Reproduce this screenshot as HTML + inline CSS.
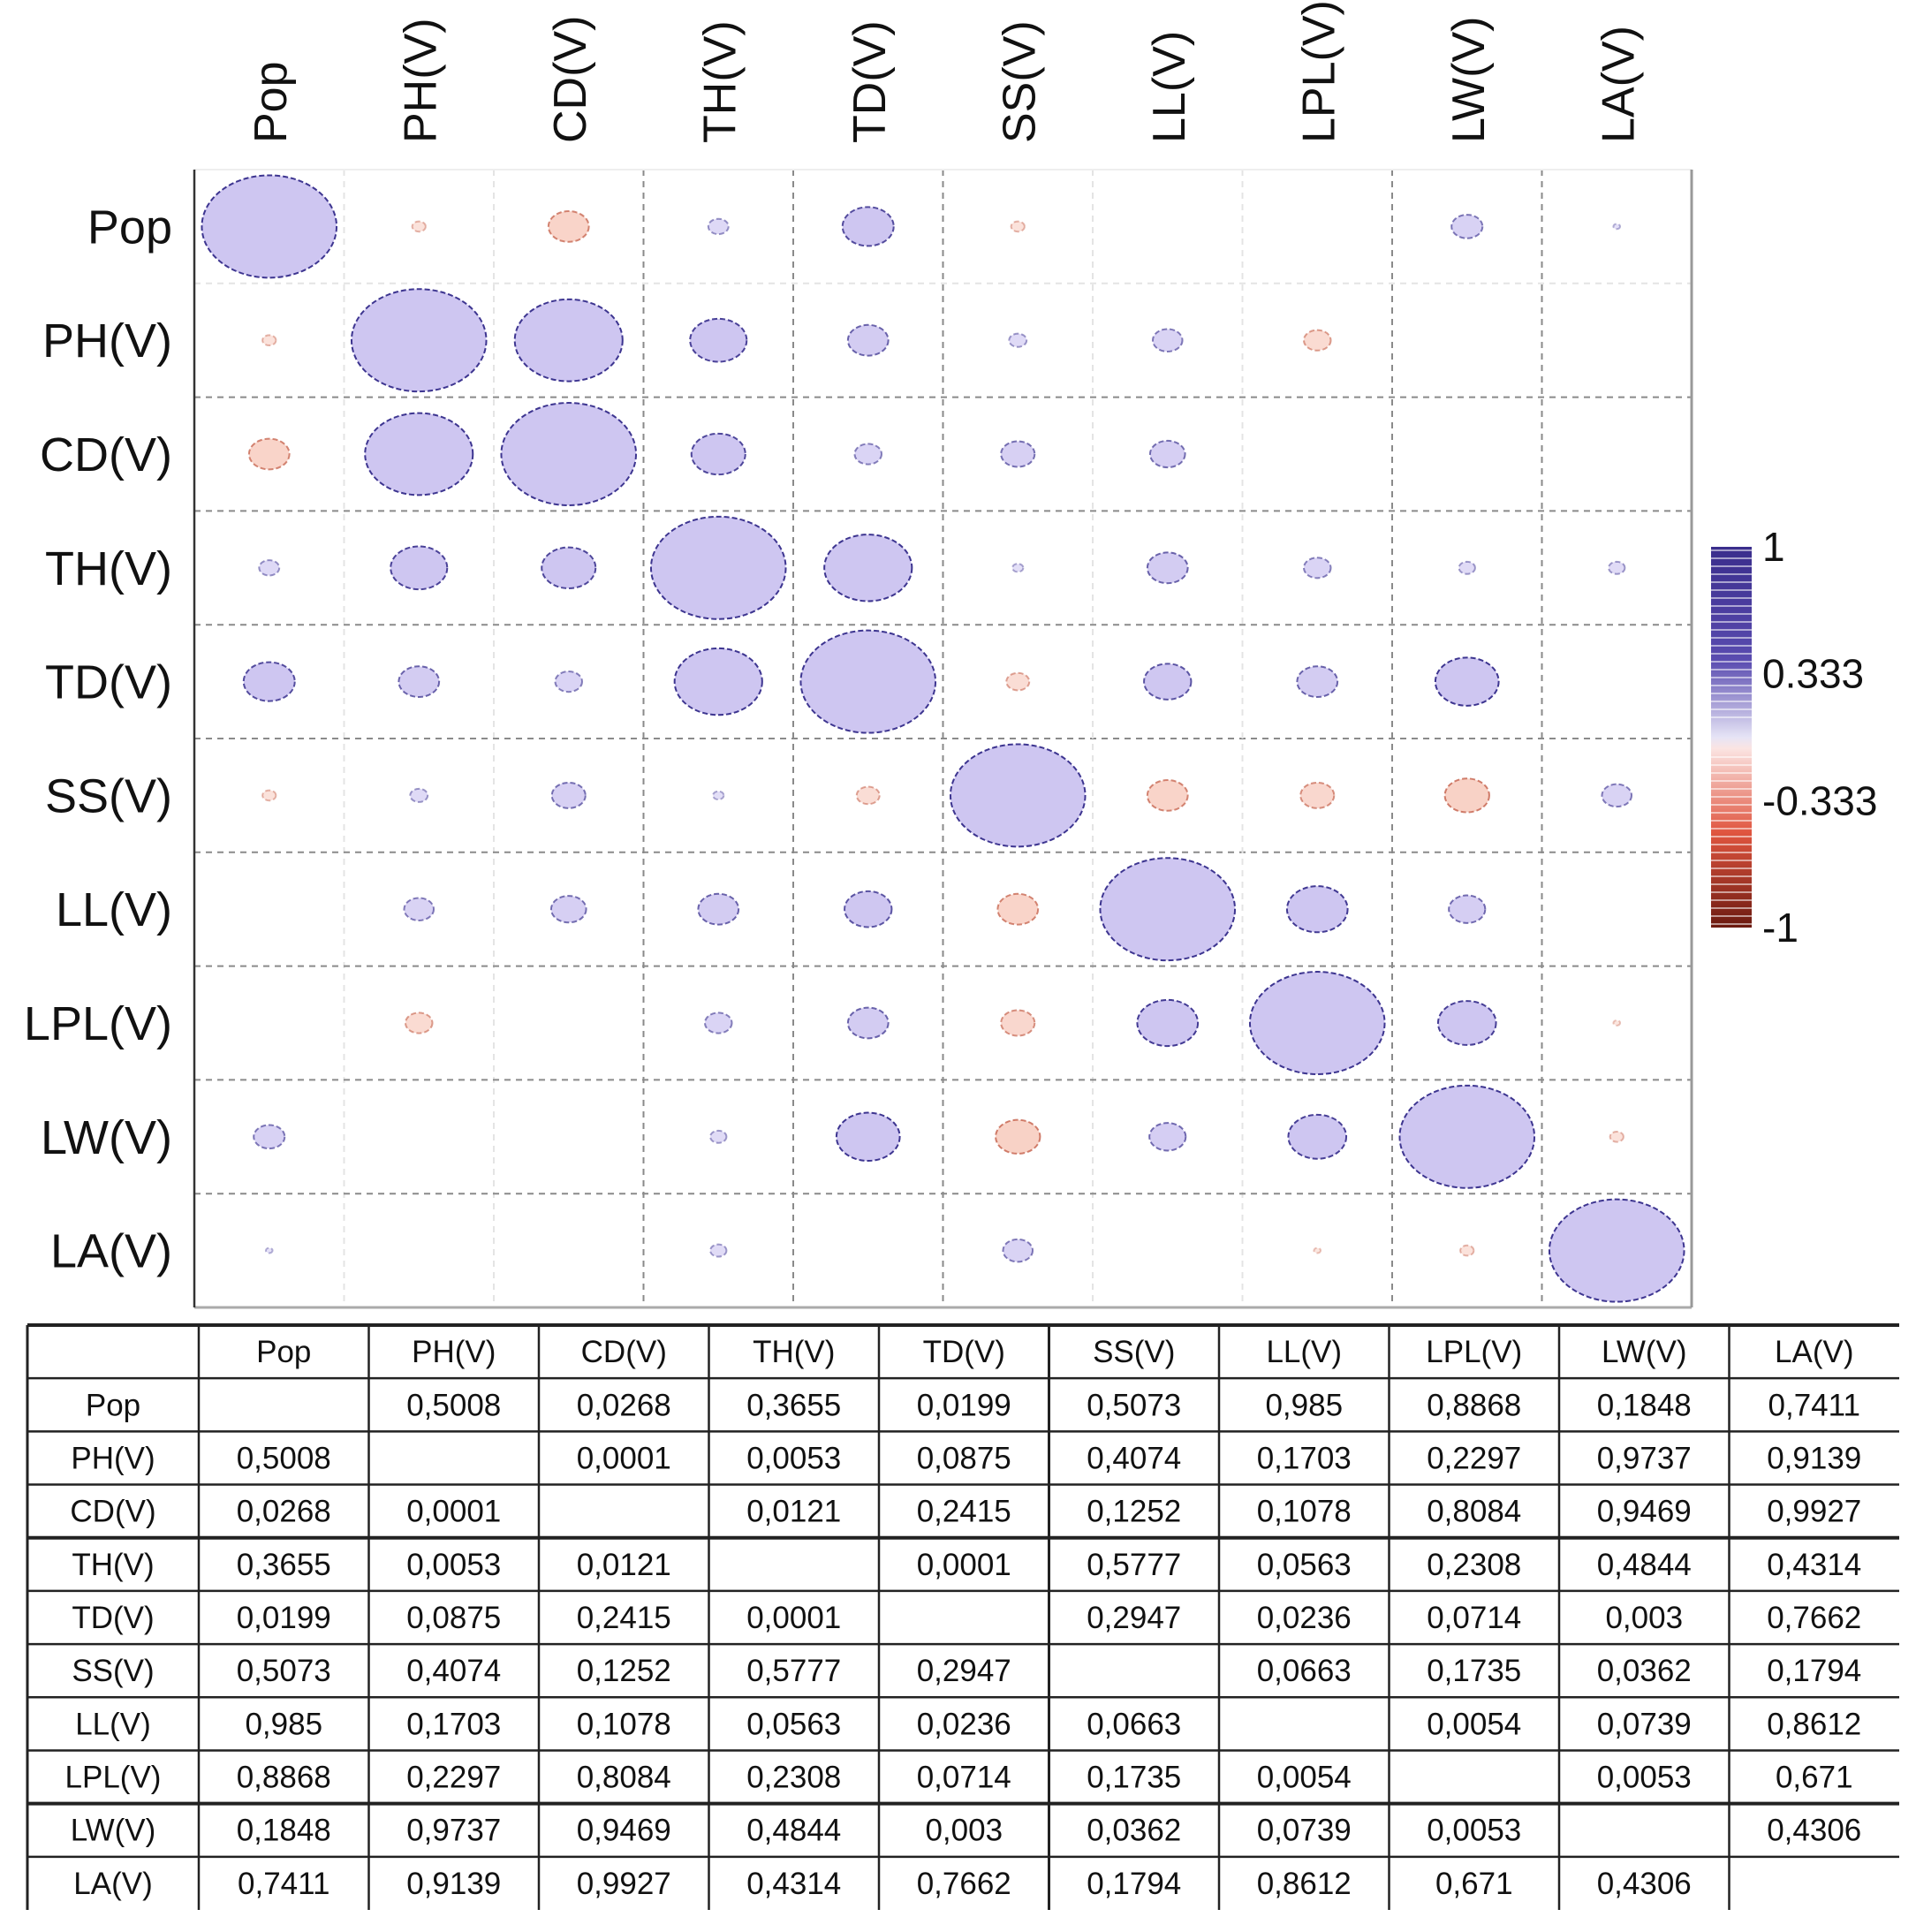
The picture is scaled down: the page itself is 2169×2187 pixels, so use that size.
<!DOCTYPE html>
<html><head><meta charset="utf-8"><style>
html,body{margin:0;padding:0;background:#fff;}
svg{display:block;}
</style></head><body>
<svg id="chart" width="2169" height="2187" viewBox="0 0 2169 2187" xmlns="http://www.w3.org/2000/svg" font-family="Liberation Sans, sans-serif">
<defs>
<linearGradient id="cbg" x1="0" y1="0" x2="0" y2="1">
<stop offset="0" stop-color="#3a2d8c"/>
<stop offset="0.3" stop-color="#5a4cb0"/>
<stop offset="0.5" stop-color="#e6e4f6"/>
<stop offset="0.53" stop-color="#fbe4e2"/>
<stop offset="0.75" stop-color="#e0553f"/>
<stop offset="1" stop-color="#6b1a10"/>
</linearGradient>
</defs>
<g id="plot"></g>
<g id="table"></g>
</svg>
<script>
const vars = ["Pop","PH(V)","CD(V)","TH(V)","TD(V)","SS(V)","LL(V)","LPL(V)","LW(V)","LA(V)"];
const corr = [
[1,-0.10,-0.30,0.15,0.38,-0.10,0.00,0.02,0.23,0.05],
[-0.10,1,0.80,0.42,0.30,0.13,0.22,-0.20,0.00,0.02],
[-0.30,0.80,1,0.40,0.20,0.25,0.26,0.02,0.01,0.00],
[0.15,0.42,0.40,1,0.65,0.08,0.30,0.20,0.12,0.12],
[0.38,0.30,0.20,0.65,1,-0.17,0.35,0.30,0.47,0.02],
[-0.10,0.13,0.25,0.08,-0.17,1,-0.30,-0.25,-0.33,0.22],
[0.00,0.22,0.26,0.30,0.35,-0.30,1,0.45,0.27,0.02],
[0.02,-0.20,0.02,0.20,0.30,-0.25,0.45,1,0.43,-0.05],
[0.23,0.00,0.01,0.12,0.47,-0.33,0.27,0.43,1,-0.10],
[0.05,0.02,0.00,0.12,0.02,0.22,0.02,-0.05,-0.10,1]
];
const pvals = [
["","0,5008","0,0268","0,3655","0,0199","0,5073","0,985","0,8868","0,1848","0,7411"],
["0,5008","","0,0001","0,0053","0,0875","0,4074","0,1703","0,2297","0,9737","0,9139"],
["0,0268","0,0001","","0,0121","0,2415","0,1252","0,1078","0,8084","0,9469","0,9927"],
["0,3655","0,0053","0,0121","","0,0001","0,5777","0,0563","0,2308","0,4844","0,4314"],
["0,0199","0,0875","0,2415","0,0001","","0,2947","0,0236","0,0714","0,003","0,7662"],
["0,5073","0,4074","0,1252","0,5777","0,2947","","0,0663","0,1735","0,0362","0,1794"],
["0,985","0,1703","0,1078","0,0563","0,0236","0,0663","","0,0054","0,0739","0,8612"],
["0,8868","0,2297","0,8084","0,2308","0,0714","0,1735","0,0054","","0,0053","0,671"],
["0,1848","0,9737","0,9469","0,4844","0,003","0,0362","0,0739","0,0053","","0,4306"],
["0,7411","0,9139","0,9927","0,4314","0,7662","0,1794","0,8612","0,671","0,4306",""]
];
const cbTicks = ["1","0.333","-0.333","-1"];
const cbTickVals = [1,0.333,-0.333,-1];

const NS="http://www.w3.org/2000/svg";
function mk(tag,attrs,parent){const e=document.createElementNS(NS,tag);for(const k in attrs)e.setAttribute(k,attrs[k]);parent.appendChild(e);return e;}
const plot=document.getElementById('plot');
const L=220,R=1915,T=192,B=1480;
const n=vars.length, cw=(R-L)/n, ch=(B-T)/n;
const xc=i=>L+cw*(i+0.5), yc=i=>T+ch*(i+0.5);

const visV=[3,4,5,8,9], visH=[2,3,4,5,6,7,8,9];
for(let k=1;k<n;k++){
  const v=mk('line',{x1:L+cw*k,x2:L+cw*k,y1:T,y2:B,stroke:visV.includes(k)?'#8a8a8a':'#e4e4e4','stroke-width':2,'stroke-dasharray':'7,6'},plot);
  
  
  const h=mk('line',{x1:L,x2:R,y1:T+ch*k,y2:T+ch*k,stroke:visH.includes(k)?'#8a8a8a':'#e4e4e4','stroke-width':2,'stroke-dasharray':'7,6'},plot);
  
  
}
mk('line',{x1:L,x2:R,y1:T,y2:T,stroke:'#eeeeee','stroke-width':2},plot);
mk('line',{x1:L,x2:R,y1:B,y2:B,stroke:'#aaaaaa','stroke-width':3},plot);
mk('line',{x1:L,x2:L,y1:T,y2:B,stroke:'#333','stroke-width':2.5},plot);
mk('line',{x1:R,x2:R,y1:T,y2:B,stroke:'#999','stroke-width':3},plot);

for(let i=0;i<n;i++)for(let j=0;j<n;j++){
  const r=corr[i][j], a=Math.abs(r);
  if(a<0.03) continue;
  const pos=r>0;
  const e=mk('ellipse',{cx:xc(j),cy:yc(i),rx:0.45*cw*a,ry:0.45*ch*a,
    fill:pos?'#cec6f1':'#f8cfc3','fill-opacity':Math.min(1,0.45+a*1.5),
    stroke:pos?'#3d3590':'#c4604a','stroke-opacity':Math.min(1,0.3+a*1.5),'stroke-width':2,'stroke-dasharray':'6,3'},plot);
  
  
}
vars.forEach((v,i)=>{
  const t=mk('text',{x:195,y:yc(i)+19,'font-size':54,'text-anchor':'end',fill:'#111'},plot);
  t.textContent=v;
  
  
  const c=mk('text',{x:0,y:0,'font-size':52,'text-anchor':'start',fill:'#111',transform:`translate(${xc(i)+19},162) rotate(-90)`},plot);
  c.textContent=v;
  
  
});
const cbx=1937,cbw=46,cbt=619,cbb=1050;
const cb=mk('rect',{x:cbx,y:cbt,width:cbw,height:cbb-cbt,fill:'url(#cbg)'},plot);


for(let y=cbt+4;y<cbb;y+=9){ if(Math.abs(y-(cbt+cbb)/2)<20) continue;
  const s=mk('line',{x1:cbx,x2:cbx+cbw,y1:y,y2:y,stroke:'#fff','stroke-opacity':0.55,'stroke-width':2},plot);
  
  
}
const cbY=v=>cbt+(1-v)/2*(cbb-cbt);
cbTicks.forEach((lab,k)=>{
  const t=mk('text',{x:cbx+cbw+12,y:cbY(cbTickVals[k])+16,'font-size':46,fill:'#111'},plot);
  t.textContent=lab;
  
  
});

const tb=document.getElementById('table');
const tl=31,tr=2150,tt=1500,tbm=2162;
const rh=(tbm-tt)/11, c0=194, cw2=(tr-tl-c0)/10;
const colX=k=>k===0?tl:tl+c0+cw2*(k-1);
for(let r=0;r<=11;r++){
  const w=(r===0)?4:([4,9].includes(r)?4:2.5);
  mk('line',{x1:tl,x2:tr,y1:tt+rh*r,y2:tt+rh*r,stroke:r===11?'none':'#222','stroke-width':w},tb);
}
for(let k=0;k<=10;k++){
  mk('line',{x1:colX(k),x2:colX(k),y1:tt,y2:tbm,stroke:'#222','stroke-width':[0,6].includes(k)?3:2.5},tb);
}
const fs=35;
function cell(txt,cx,cy,name){const t=mk('text',{x:cx,y:cy+12,'font-size':fs,'text-anchor':'middle',fill:'#111'},tb);t.textContent=txt;
  
  }
vars.forEach((v,k)=>{
  cell(v,colX(k+1)+cw2/2,tt+rh*0.5,'table-header');
  cell(v,tl+c0/2,tt+rh*(k+1.5),'table-row-label');
});
for(let i=0;i<n;i++)for(let j=0;j<n;j++){ if(pvals[i][j]) cell(pvals[i][j],colX(j+1)+cw2/2,tt+rh*(i+1.5),'p-value-cell'); }
</script>
</body></html>
